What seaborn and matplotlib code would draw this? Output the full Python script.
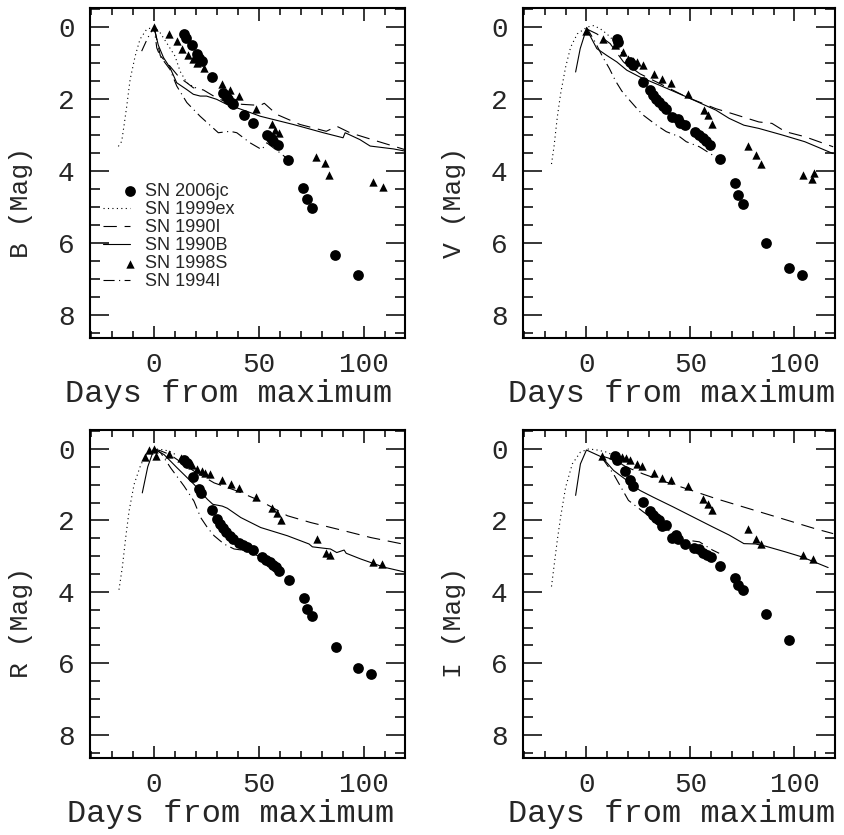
import matplotlib
matplotlib.use("Agg")
import matplotlib.pyplot as plt
import seaborn as sns
import pandas as pd
from matplotlib.ticker import MultipleLocator
from matplotlib.legend_handler import HandlerPathCollection

# ---------------- B band ----------------
b_06jc_day = [14.3, 15.2, 17.9, 20.3, 21.6, 22.7, 27.5, 33.0, 34.1, 35.4, 37.0, 37.8, 42.9, 47.3,
              54.0, 55.6, 56.8, 59.2, 64.0, 71.0, 73.0, 75.0, 86.2, 97.3]
b_06jc_mag = [0.19, 0.30, 0.50, 0.76, 0.85, 0.95, 1.38, 1.83, 1.92, 2.01, 2.10, 2.15, 2.45, 2.66,
              2.99, 3.08, 3.17, 3.27, 3.69, 4.48, 4.77, 5.03, 6.35, 6.91]
b_98s_day = [0, 7.1, 11.1, 13.2, 16.3, 18.7, 20.6, 23.8, 32.2, 36.2, 40.5, 48.4, 56.0, 57.6, 59.5,
             77.1, 81.4, 83.5, 104.4, 108.9]
b_98s_mag = [0.0, 0.19, 0.39, 0.62, 0.79, 0.90, 1.00, 1.15, 1.58, 1.74, 1.92, 2.27, 2.71, 2.87, 2.96,
             3.61, 3.78, 4.12, 4.32, 4.45]
b_99ex_day = [-17, -15.4, -14.2, -13, -11.4, -9, -6.7, -3.5, 0, 2.9, 6, 10, 12.4, 15.6, 18.7, 21]
b_99ex_mag = [3.32, 3.18, 2.7, 2.2, 1.46, 0.81, 0.34, 0.06, 0, 0.16, 0.44, 0.81, 1.23, 1.55, 1.66, 1.72]
b_90i_day = [0, 3, 7.6, 12, 15.6, 18.7, 23.5, 29.8, 35, 42, 50.5, 52.5, 58.4, 69.5, 82, 87, 93.3, 106, 119.5]
b_90i_mag = [0, 0.8, 1.09, 1.40, 1.55, 1.69, 1.75, 1.97, 2.1, 2.15, 2.18, 2.12, 2.43, 2.71, 2.9, 2.76,
             2.94, 3.17, 3.41]
b_90b_day = [0, 2, 4.5, 7.6, 10.8, 15.6, 18.7, 22, 25, 29.8, 34.6, 44, 50.5, 66.3, 80.6, 90, 91, 98,
             102.9, 114, 119.5]
b_90b_mag = [0, 0.5, 0.85, 1.13, 1.55, 1.74, 1.87, 1.92, 1.92, 2.01, 2.15, 2.34, 2.48, 2.71, 2.94, 3.08,
             2.94, 3.13, 3.31, 3.39, 3.45]
b_94i_day = [-5.9, -3, 0, 1.3, 2.9, 7.6, 10.8, 15.6, 21.9, 30.6, 36.2, 39.4, 45.7, 51.3, 53.7, 60, 64]
b_94i_mag = [0.67, 0.3, 0, 0.58, 0.81, 1.18, 1.64, 2.1, 2.48, 2.94, 2.9, 2.94, 3.22, 3.41, 3.22, 3.5, 3.69]

# ---------------- V band ----------------
v_06jc_day = [14.6, 15.4, 21, 22.5, 27.3, 30.5, 32.1, 33.3, 34.9, 36.8, 38.4, 41.3, 43.9, 45.1, 47.6,
              52.4, 54.3, 55.9, 57.5, 59.4, 64.1, 71.4, 73, 75.4, 86.3, 97.6, 103.5]
v_06jc_mag = [0.32, 0.41, 0.97, 1.06, 1.54, 1.76, 1.9, 1.99, 2.08, 2.2, 2.28, 2.5, 2.57, 2.66, 2.73,
              2.93, 3.0, 3.08, 3.17, 3.27, 3.68, 4.35, 4.67, 4.92, 6.01, 6.71, 6.91]
v_98s_day = [0, 7.8, 13.8, 17.5, 20.2, 22.2, 24.1, 27, 32.4, 36.5, 40.8, 48.7, 56.7, 58.6, 60.6,
             77.6, 81.7, 83.9, 104.3, 108.3, 109.5]
v_98s_mag = [0.11, 0.32, 0.51, 0.69, 0.88, 0.94, 0.97, 1.05, 1.30, 1.45, 1.55, 1.87, 2.31, 2.45, 2.71,
             3.30, 3.56, 3.81, 4.12, 4.23, 4.07]
v_99ex_day = [-16.8, -15.6, -14, -12.4, -10, -7.6, -4.4, 0.3, 3.5, 6.7, 9.8, 13, 16.2, 19.4, 22]
v_99ex_mag = [3.81, 3.33, 2.5, 1.85, 1.11, 0.56, 0.19, 0.0, -0.04, 0.05, 0.19, 0.37, 0.65, 0.92, 1.1]
v_90i_day = [0, 5, 11.4, 17.8, 25.7, 35.2, 47.9, 62.2, 70.2, 82.9, 89.2, 95.6, 105, 118.6]
v_90i_mag = [0.05, 0.19, 0.46, 0.97, 1.30, 1.57, 1.94, 2.27, 2.41, 2.64, 2.68, 2.91, 3.05, 3.33]
v_90b_day = [-5.2, -3, 0, 5, 9.8, 14.6, 19.4, 25.7, 35.2, 48, 62.2, 68.6, 75.7, 82.9, 94, 105, 118.6]
v_90b_mag = [1.25, 0.6, 0.05, 0.6, 0.79, 0.97, 1.2, 1.39, 1.62, 1.94, 2.31, 2.54, 2.73, 2.82, 3.0,
             3.19, 3.52]
v_94i_day = [0, 4, 8, 11, 14, 17, 20.2, 24, 27.3, 33.7, 38.4, 42.4, 44.8, 48, 54.3, 60.6, 63.8]
v_94i_mag = [0.0, 0.4, 0.85, 1.15, 1.5, 1.78, 2.0, 2.25, 2.45, 2.73, 2.91, 3.0, 3.05, 3.19, 3.33, 3.56, 3.65]

# ---------------- R band ----------------
r_06jc_day = [14.3, 15.6, 18.7, 21.4, 22.2, 27.5, 29.8, 31.4, 33, 34.4, 36, 37.5, 40.5, 42.5, 44.4,
              47.3, 51.6, 53.5, 55.1, 56.7, 57.9, 59.5, 64.3, 71.4, 73, 75.4, 86.5, 97.3, 103.5]
r_06jc_mag = [0.3, 0.39, 0.79, 1.13, 1.23, 1.72, 1.97, 2.11, 2.22, 2.32, 2.43, 2.52, 2.64, 2.68, 2.74,
              2.83, 3.03, 3.11, 3.17, 3.25, 3.31, 3.41, 3.68, 4.18, 4.49, 4.68, 5.54, 6.12, 6.31]
r_98s_day = [-4.4, -2.4, 0, 0.8, 7.1, 12.7, 15.1, 17.9, 20.6, 22.7, 24.1, 26.7, 32.5, 36.5, 40.5,
             48.4, 56.3, 58.4, 60.3, 77.5, 81.8, 83.8, 104.4, 108.7]
r_98s_mag = [0.22, 0.04, 0.0, 0.2, 0.13, 0.25, 0.34, 0.44, 0.56, 0.62, 0.67, 0.69, 0.88, 0.97, 1.10,
             1.35, 1.66, 1.78, 2.0, 2.52, 2.92, 2.97, 3.17, 3.22]
r_99ex_day = [-16.7, -15.1, -13.5, -11.9, -9.5, -6.3, -3.2, 0.8, 4, 7.1, 10]
r_99ex_mag = [3.94, 3.31, 2.48, 1.74, 0.99, 0.44, 0.11, 0.0, 0.02, 0.06, 0.15]
r_90i_day = [0, 3, 7.6, 19, 28.6, 39.7, 50.8, 63.5, 74.6, 90.5, 103.2, 118.3]
r_90i_mag = [0.0, 0.05, 0.16, 0.62, 0.95, 1.18, 1.46, 1.87, 2.06, 2.29, 2.48, 2.66]
r_90b_day = [-5.6, -3, 0, 4.8, 11, 19, 25.4, 28, 32.5, 34.9, 41.3, 50.8, 63.5, 73.8, 75.4, 81, 84, 87,
             90.5, 91.5, 98.4, 109.5, 119.8]
r_90b_mag = [1.23, 0.5, 0.0, 0.16, 0.53, 0.99, 1.41, 1.55, 1.6, 1.66, 1.92, 2.2, 2.43, 2.66, 2.74, 2.78,
             2.8, 2.9, 2.83, 2.92, 3.08, 3.31, 3.45]
r_94i_day = [0, 3.2, 7.9, 14.3, 19, 22.2, 25.4, 28.6, 33.3, 38.1, 44.4, 50.8, 57.1, 63.5]
r_94i_mag = [0.0, 0.11, 0.53, 1.04, 1.46, 1.92, 2.2, 2.43, 2.66, 2.8, 2.85, 3.03, 3.31, 3.45]

# ---------------- I band ----------------
i_06jc_day = [13.8, 14.9, 18.3, 21, 22.2, 27.3, 30.5, 32.1, 33.3, 34.9, 36.5, 38.4, 41.1, 43.2, 44,
              47.6, 51.9, 54, 55.9, 57.8, 59.8, 64.3, 71.4, 73, 75.4, 86.3, 97.6]
i_06jc_mag = [0.21, 0.31, 0.62, 0.88, 1.04, 1.48, 1.74, 1.84, 1.92, 2.0, 2.16, 2.12, 2.48, 2.41, 2.53,
              2.65, 2.78, 2.81, 2.92, 2.97, 3.02, 3.27, 3.6, 3.8, 3.96, 4.61, 5.34]
i_98s_day = [7.5, 13, 14.9, 17, 19, 21, 24.1, 26.5, 32.4, 36.5, 40.5, 48.7, 56.2, 58.3, 60.6, 77.6,
             81.7, 83.9, 104.3, 108.7]
i_98s_mag = [0.19, 0.17, 0.2, 0.23, 0.26, 0.3, 0.42, 0.48, 0.67, 0.81, 0.88, 1.05, 1.39, 1.53, 1.72,
             2.23, 2.52, 2.65, 2.97, 3.09]
i_99ex_day = [-16.8, -15.6, -14, -12.4, -10, -6.8, -2.9, 1.1, 5.1, 9.8, 14.6]
i_99ex_mag = [3.85, 3.29, 2.55, 1.9, 1.07, 0.42, 0.09, 0.0, 0.03, 0.09, 0.23]
i_90i_day = [7.5, 13, 19.4, 27.3, 38.4, 47.9, 62.2, 78.1, 94, 109.8, 118.6]
i_90i_mag = [0.2, 0.3, 0.51, 0.7, 0.93, 1.11, 1.39, 1.67, 1.95, 2.23, 2.37]
i_90b_day = [-5.2, -2.9, 0, 7.5, 13, 19.4, 25.7, 32.1, 41.6, 51.1, 60.6, 68.6, 75.7, 81.3, 86, 95.6,
             103.5, 116.2]
i_90b_mag = [1.3, 0.42, 0.03, 0.23, 0.6, 0.88, 1.16, 1.35, 1.62, 1.9, 2.18, 2.41, 2.65, 2.66, 2.72,
             2.88, 3.02, 3.32]
i_94i_day = [7.5, 13, 20.2, 27.3, 35.2, 41.6, 48, 54.3, 60.6, 63.8]
i_94i_mag = [0.25, 0.7, 1.44, 1.76, 2.09, 2.37, 2.55, 2.6, 2.83, 2.92]

bands = ["B", "V", "R", "I"]
band_data = {
    "B": [(b_06jc_day, b_06jc_mag), (b_99ex_day, b_99ex_mag), (b_90i_day, b_90i_mag),
          (b_90b_day, b_90b_mag), (b_98s_day, b_98s_mag), (b_94i_day, b_94i_mag)],
    "V": [(v_06jc_day, v_06jc_mag), (v_99ex_day, v_99ex_mag), (v_90i_day, v_90i_mag),
          (v_90b_day, v_90b_mag), (v_98s_day, v_98s_mag), (v_94i_day, v_94i_mag)],
    "R": [(r_06jc_day, r_06jc_mag), (r_99ex_day, r_99ex_mag), (r_90i_day, r_90i_mag),
          (r_90b_day, r_90b_mag), (r_98s_day, r_98s_mag), (r_94i_day, r_94i_mag)],
    "I": [(i_06jc_day, i_06jc_mag), (i_99ex_day, i_99ex_mag), (i_90i_day, i_90i_mag),
          (i_90b_day, i_90b_mag), (i_98s_day, i_98s_mag), (i_94i_day, i_94i_mag)],
}
sn_names = ["SN 2006jc", "SN 1999ex", "SN 1990I", "SN 1990B", "SN 1998S", "SN 1994I"]
x_ticks = [0, 50, 100]
y_ticks = [0, 2, 4, 6, 8]

sns.set_style("ticks")
plt.rcParams["font.family"] = ["Liberation Mono", "DejaVu Sans"]
plt.rcParams["axes.linewidth"] = 1.5

W, H = 845, 835
fig = plt.figure(figsize=(W / 100, H / 100), dpi=100)
boxes = {"B": (90, 8, 405, 338), "V": (523, 8, 835, 338),
         "R": (90, 430, 405, 758), "I": (523, 430, 835, 758)}
xlabel_center = {"B": 229, "V": 672, "R": 231, "I": 672}

line_styles = {
    "SN 1999ex": (0, (1, 3)),
    "SN 1990I": (0, (12, 7)),
    "SN 1990B": "-",
    "SN 1994I": (0, (10, 4, 1, 4)),
}


class RightMarker(HandlerPathCollection):
    def get_xdata(self, legend, xdescent, ydescent, width, height, fontsize):
        x = [-xdescent + width]
        return x, x


for band in bands:
    l, t, r, b = boxes[band]
    ax = fig.add_axes([l / W, 1 - b / H, (r - l) / W, (b - t) / H])
    series = band_data[band]
    for name, (d, m) in zip(sn_names, series):
        df = pd.DataFrame({"day": d, "mag": m})
        if name == "SN 2006jc":
            sns.scatterplot(data=df, x="day", y="mag", ax=ax, marker="o", s=60,
                            color="black", linewidth=0, label=name, zorder=4)
        elif name == "SN 1998S":
            sns.scatterplot(data=df, x="day", y="mag", ax=ax, marker="^", s=36,
                            color="black", linewidth=0, label=name, zorder=4)
        else:
            sns.lineplot(data=df, x="day", y="mag", ax=ax, sort=False, estimator=None,
                         color="black", lw=0.8, linestyle=line_styles[name], label=name)
    leg = ax.get_legend()
    if leg is not None:
        leg.remove()

    ax.set_xlim(-30.5, 119.5)
    ax.set_ylim(8.65, -0.53)
    ax.set_xticks(x_ticks)
    ax.set_yticks(y_ticks)
    ax.xaxis.set_minor_locator(MultipleLocator(10))
    ax.yaxis.set_minor_locator(MultipleLocator(0.5))
    ax.tick_params(which="both", direction="in", top=True, right=True, width=1.1,
                   labelsize=20, color="black")
    ax.tick_params(axis="x", which="major", length=9, pad=10)
    ax.tick_params(axis="x", which="minor", length=5)
    ax.tick_params(axis="y", which="major", length=14, pad=11)
    ax.tick_params(axis="y", which="minor", length=7)
    for s in ax.spines.values():
        s.set_linewidth(1.5)
        s.set_color("black")
    ax.set_xlabel("Days from maximum", fontsize=23, labelpad=1,
                  x=(xlabel_center[band] - l) / (r - l))
    ax.set_ylabel(f"{band} (Mag)", fontsize=19)
    ax.yaxis.set_label_coords(-57 / (r - l), 0.412)

    if band == "B":
        handles, labels = ax.get_legend_handles_labels()
        hmap = dict(zip(labels, handles))
        hl = [hmap[n] for n in sn_names]
        ax.legend(hl, sn_names, loc="upper left",
                  bbox_to_anchor=((103 - l) / (r - l), 1 - (183 - t) / (b - t)),
                  frameon=False, borderpad=0, borderaxespad=0,
                  handlelength=1.5, handletextpad=0.85, labelspacing=0.06,
                  prop={"family": "Liberation Sans", "size": 13},
                  handler_map={type(hmap["SN 2006jc"]): RightMarker()})

fig.savefig("out.png", dpi=100)
